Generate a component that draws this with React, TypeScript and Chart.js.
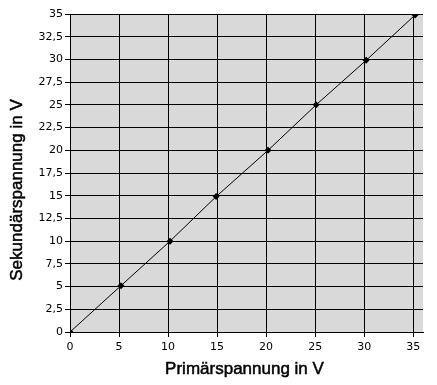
import React, { useEffect, useRef } from "react";
import { Chart, registerables } from "chart.js";

Chart.register(...registerables);

const primaerSpannung = [0, 5.2, 10.2, 14.9, 20.2, 25.1, 30.2, 35.2];
const sekundaerSpannung = [0, 5.1, 10, 14.9, 20, 25, 29.9, 34.9];
const xTickValues = [0, 5, 10, 15, 20, 25, 30, 35];
const yTickValues = [0, 2.5, 5, 7.5, 10, 12.5, 15, 17.5, 20, 22.5, 25, 27.5, 30, 32.5, 35];
const xTitle = "Primärspannung in V";
const yTitle = "Sekundärspannung in V";

const fmt = (v: number | string) => String(v).replace(".", ",");

export default function App() {
  const ref = useRef<HTMLCanvasElement | null>(null);

  useEffect(() => {
    if (!ref.current) return;
    const bgPlugin = {
      id: "bgPlot",
      beforeDraw(chart: any) {
        const { ctx, chartArea } = chart;
        ctx.save();
        ctx.fillStyle = "#d9d9d9";
        ctx.fillRect(chartArea.left, chartArea.top, chartArea.right - chartArea.left, chartArea.bottom - chartArea.top);
        ctx.restore();
      },
    };
    const titlePlugin = {
      id: "axisTitles",
      afterDraw(chart: any) {
        const { ctx, chartArea } = chart;
        ctx.save();
        ctx.fillStyle = "#000";
        ctx.strokeStyle = "#000";
        ctx.lineWidth = 0.5;
        ctx.font = "17px 'Liberation Sans', Arial, sans-serif";
        ctx.textAlign = "center";
        ctx.textBaseline = "middle";
        const cx = (chartArea.left + chartArea.right) / 2 - 2;
        ctx.fillText(xTitle, cx, 369);
        ctx.strokeText(xTitle, cx, 369);
        ctx.translate(17, 190);
        ctx.rotate(-Math.PI / 2);
        ctx.fillText(yTitle, 0, 0);
        ctx.strokeText(yTitle, 0, 0);
        ctx.restore();
      },
    };
    const tickFont = { family: "'DejaVu Sans', sans-serif", size: 11 };
    const chart = new Chart(ref.current, {
      type: "scatter",
      data: {
        datasets: [
          {
            data: primaerSpannung.map((x, i) => ({ x, y: sekundaerSpannung[i] })),
            showLine: true,
            borderColor: "#000",
            borderWidth: 1,
            backgroundColor: "#000",
            pointStyle: "rectRot",
            pointRadius: 3.5,
            pointBorderWidth: 0,
          },
        ],
      },
      options: {
        responsive: false,
        animation: false,
        layout: { padding: { top: 14, right: 14, left: 0, bottom: 0 } },
        plugins: { legend: { display: false }, tooltip: { enabled: false } },
        scales: {
          x: {
            type: "linear",
            min: 0,
            max: 36,
            afterBuildTicks: (scale: any) => {
              scale.ticks = xTickValues.map((v) => ({ value: v }));
            },
            afterFit: (scale: any) => {
              scale.height = 53;
            },
            ticks: { color: "#000", font: tickFont, padding: 4, maxRotation: 0, callback: (v: any) => fmt(v) },
            grid: { color: "#000", lineWidth: 1, drawTicks: true, tickLength: 5, tickColor: "#000" },
            border: { display: true, color: "#000", width: 1 },
            title: { display: false },
          },
          y: {
            type: "linear",
            min: 0,
            max: 35,
            afterBuildTicks: (scale: any) => {
              scale.ticks = yTickValues.map((v) => ({ value: v }));
            },
            afterFit: (scale: any) => {
              scale.width = 70;
            },
            ticks: { color: "#000", font: tickFont, padding: 2, callback: (v: any) => fmt(v) },
            grid: { color: "#000", lineWidth: 1, drawTicks: true, tickLength: 5, tickColor: "#000" },
            border: { display: true, color: "#000", width: 1 },
            title: { display: false },
          },
        },
      },
      plugins: [bgPlugin, titlePlugin],
    } as any);
    return () => chart.destroy();
  }, []);

  return (
    <div style={{ position: "absolute", left: 0, top: 0, width: 437, height: 385, background: "#fff" }}>
      <canvas ref={ref} width={437} height={385} style={{ display: "block" }} />
    </div>
  );
}
